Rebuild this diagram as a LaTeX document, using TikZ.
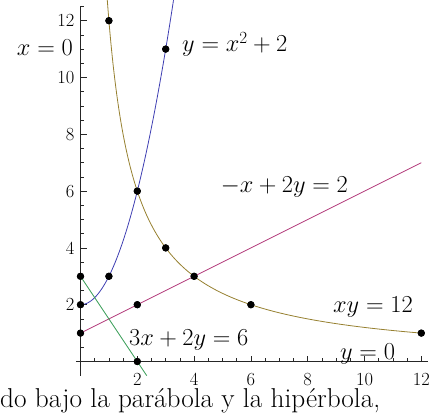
\RequirePackage{fix-cm}
\documentclass[tikz,border=0pt]{standalone}
\definecolor{parabc}{RGB}{62,62,178}
\definecolor{hyperc}{RGB}{150,128,48}
\definecolor{linec}{RGB}{176,52,118}
\definecolor{greenc}{RGB}{58,158,88}
\begin{document}
\begin{tikzpicture}[x=28.4pt,y=28.4pt,
  axis/.style={draw=black!85, line width=0.7pt},
  tk/.style={draw=black!85, line width=0.6pt},
  ticklab/.style={font=\fontsize{18.5}{22}\selectfont, inner sep=0pt},
  lab/.style={font=\fontsize{24.4}{29}\selectfont, inner sep=0pt, anchor=base west},
  dot/.style={circle, fill=black, inner sep=0pt, minimum size=7.2pt},
  curve/.style={line width=0.8pt}]
\useasboundingbox (-80.5pt,-54.5pt) rectangle (355.5pt,361.5pt);
% axes
\coordinate (xl) at (-0.16,0);
\coordinate (xr) at (12.24,0);
\coordinate (yb) at (0,-0.5);
\coordinate (yt) at (0,12.5);
\draw[axis] (xl) -- (xr);
\draw[axis] (yb) -- (yt);
\foreach \v in {0.5,1.0,...,12.01} \draw[tk] (\v,0) -- ++(0,3.3pt);
\foreach \v in {2,4,...,12} {
  \draw[tk] (\v,0) -- ++(0,6pt);
  \node[ticklab, anchor=base] (xt\v) at ([yshift=-23.5pt]\v,0) {\v};
}
\foreach \v in {0.5,1.0,...,12.51} \draw[tk] (0,\v) -- ++(3.3pt,0);
\foreach \v in {2,4,...,12} {
  \draw[tk] (0,\v) -- ++(6pt,0);
  \node[ticklab, anchor=east] (yt\v) at ([xshift=-6pt]0,\v) {\v};
}
% curves
\draw[curve, parabc] plot[domain=0:3.275, samples=90, smooth] (\x,{\x*\x+2});
\draw[curve, hyperc] plot[domain=0.943:12, samples=160, smooth] (\x,{12/\x});
\coordinate (le) at (12,7);
\coordinate (ge) at (2.3333,-0.5);
% dots
\node[dot] (a1) at (1,12) {};
\node[dot] (a2) at (3,11) {};
\node[dot] (a3) at (2,6) {};
\node[dot] (a4) at (3,4) {};
\node[dot] (a5) at (4,3) {};
\node[dot] (a6) at (6,2) {};
\node[dot] (a7) at (12,1) {};
\node[dot] (b1) at (0,3) {};
\node[dot] (b2) at (1,3) {};
\node[dot] (b3) at (0,2) {};
\node[dot] (b4) at (2,2) {};
\node[dot] (b5) at (0,1) {};
\node[dot] (b6) at (2,0) {};
\draw[curve, linec] (b5.center) -- (le);
\draw[curve, greenc] (b1.center) -- (ge);
\foreach \n in {a1,a2,a3,a4,a5,a6,a7,b1,b2,b3,b4,b5,b6} \fill (\n) circle (3.6pt);
% labels
\node[lab] (l1) at (3.574,10.898) {$y=x^2+2$};
\node[lab, anchor=base east] (l2) at ([xshift=-7.5pt]0,10.79) {$x=0$};
\node[lab] (l3) at (4.937,5.944) {$-x+2y=2$};
\node[lab] (l4) at (8.89,1.743) {$xy=12$};
\node[lab] (l5) at (1.708,0.581) {$3x+2y=6$};
\node[lab] (l6) at (9.137,0.053) {$y=0$};
% bottom text
\node[anchor=base west, inner sep=0pt, font=\fontsize{27.3}{32}\selectfont] (cap) at (-80.5pt,-45.5pt) {do bajo la parábola y la hipérbola,};
\end{tikzpicture}
\end{document}
